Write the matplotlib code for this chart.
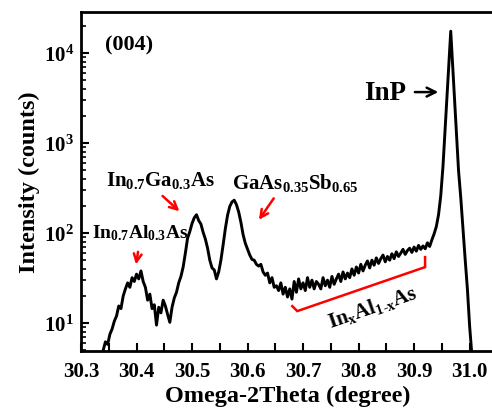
import numpy as np
import matplotlib
matplotlib.use("Agg")
import matplotlib.pyplot as plt
from matplotlib.ticker import MultipleLocator, LogLocator, NullFormatter

plt.rcParams['font.family'] = ['Liberation Serif', 'DejaVu Serif']
plt.rcParams['font.weight'] = 'bold'
plt.rcParams['mathtext.fontset'] = 'custom'
plt.rcParams['mathtext.rm'] = 'Liberation Serif:bold'
plt.rcParams['mathtext.bf'] = 'Liberation Serif:bold'
plt.rcParams['mathtext.it'] = 'Liberation Serif:bold'
plt.rcParams['mathtext.default'] = 'bf'

# Data (Omega-2Theta scan, log intensity)
omega = [30.340, 30.344, 30.348, 30.352, 30.356, 30.360, 30.364, 30.368, 30.372, 30.376,
         30.380, 30.384, 30.388, 30.392, 30.396, 30.400, 30.404, 30.408, 30.412, 30.416,
         30.420, 30.424, 30.428, 30.432, 30.436, 30.440, 30.444, 30.448, 30.452, 30.456,
         30.460, 30.464, 30.468, 30.472, 30.476, 30.480, 30.484, 30.488, 30.492, 30.496,
         30.500, 30.504, 30.508, 30.512, 30.516, 30.520, 30.524, 30.528, 30.532, 30.536,
         30.540, 30.544, 30.548, 30.552, 30.556, 30.560, 30.564, 30.568, 30.572, 30.576,
         30.580, 30.584, 30.588, 30.592, 30.596, 30.600, 30.604, 30.608, 30.612, 30.616,
         30.620, 30.624, 30.628, 30.632, 30.636, 30.640, 30.644, 30.648, 30.652, 30.656,
         30.660, 30.664, 30.668, 30.672, 30.676, 30.680, 30.684, 30.688, 30.692, 30.696,
         30.700, 30.704, 30.708, 30.712, 30.716, 30.720, 30.724, 30.728, 30.732, 30.736,
         30.740, 30.744, 30.748, 30.752, 30.756, 30.760, 30.764, 30.768, 30.772, 30.776,
         30.780, 30.784, 30.788, 30.792, 30.796, 30.800, 30.804, 30.808, 30.812, 30.816,
         30.820, 30.824, 30.828, 30.832, 30.836, 30.840, 30.844, 30.848, 30.852, 30.856,
         30.860, 30.864, 30.868, 30.872, 30.876, 30.880, 30.884, 30.888, 30.892, 30.896,
         30.900, 30.904, 30.908, 30.912, 30.916, 30.920, 30.924, 30.928, 30.932, 30.936,
         30.940, 30.944, 30.948, 30.952, 30.956, 30.960, 30.964, 30.966, 30.968, 30.972,
         30.976, 30.980, 30.984, 30.988, 30.992, 30.996, 31.000, 31.004]
counts = [5.0, 6.2, 5.8, 7.5, 8.6, 10.5, 12.0, 15.5, 14.5, 20,
          24, 28, 25, 32, 29, 35, 31, 38, 29, 25,
          18, 21, 14.5, 16, 9.5, 15, 13, 18, 15.5, 12.5,
          10.2, 15, 19, 22, 28, 33, 42, 60, 88, 104,
          128, 148, 160, 138, 126, 102, 86, 68, 50, 41,
          39, 31, 37, 50, 74, 112, 158, 198, 222, 232,
          207, 172, 132, 96, 77, 66, 57, 51, 50, 45,
          43, 45, 37, 34, 36, 28, 32, 25, 26, 23,
          28, 21, 25, 19.5, 24, 18.5, 29, 22, 31, 24,
          28, 23, 32, 25, 30, 24, 29, 27, 24, 32,
          26, 30, 25, 33, 27, 31, 35, 29, 37, 31,
          36, 32, 40, 34, 42, 36, 45, 38, 44, 49,
          41, 50, 44, 53, 46, 52, 57, 48, 55, 50,
          59, 52, 62, 55, 60, 66, 58, 64, 68, 61,
          70, 63, 73, 66, 72, 67, 78, 71, 84, 98,
          118, 160, 260, 550, 1480, 4000, 10700, 17500, 10500, 3800,
          1380, 500, 250, 112, 51, 24, 9.3, 4.5]

xticks = [30.3, 30.4, 30.5, 30.6, 30.7, 30.8, 30.9, 31.0]
xticklabels = ['30.3', '30.4', '30.5', '30.6', '30.7', '30.8', '30.9', '31.0']
yticks = [10, 100, 1000, 10000]
yticklabels = [r'$10^{1}$', r'$10^{2}$', r'$10^{3}$', r'$10^{4}$']

fig = plt.figure(figsize=(4.92, 4.14), dpi=100)
ax = fig.add_axes([81/492, 62/414, (494.6-81)/492, (352-13)/414])

ax.plot(omega, counts, color='black', lw=2.1)
ax.set_yscale('log')
ax.set_xlim(30.3, 31.045)
ax.set_ylim(4.9, 28600)

ax.set_xticks(xticks)
ax.set_xticklabels(xticklabels)
ax.xaxis.set_minor_locator(MultipleLocator(0.05))
ax.set_yticks(yticks)
ax.set_yticklabels(yticklabels)
ax.yaxis.set_minor_locator(LogLocator(base=10, subs=np.arange(2, 10)))
ax.yaxis.set_minor_formatter(NullFormatter())

ax.tick_params(axis='x', which='major', direction='in', length=6, width=1.5,
               labelsize=15, pad=7)
ax.tick_params(axis='y', which='major', direction='in', length=6, width=1.5,
               labelsize=15, pad=5)
ax.tick_params(axis='x', which='minor', direction='in', length=6, width=1.5)
ax.tick_params(axis='y', which='minor', direction='in', length=3.5, width=1.2)
ax.tick_params(top=False, right=False, which='both')
for lab in ax.get_xticklabels() + ax.get_yticklabels():
    lab.set_fontweight('bold')

for s in ['left', 'bottom', 'top']:
    ax.spines[s].set_linewidth(2.0)
ax.spines['right'].set_visible(False)

ax.set_xlabel('Omega-2Theta (degree)', fontsize=17.5, fontweight='bold', labelpad=3)
ax.set_ylabel('Intensity (counts)', fontsize=17.5, fontweight='bold', labelpad=3)

def px(x, y):
    # figure-pixel to data helper (annotation placement)
    xd = 30.3 + (x - 80.4) / 556.0
    yd = 10 ** (1 + (324 - y) / 90.0)
    return xd, yd

ax.text(*px(104, 45), '(004)', fontsize=16, fontweight='bold', va='center', ha='left')
ax.text(*px(105, 180), r'In$_{0.7}$Ga$_{0.3}$As', fontsize=15, fontweight='bold', va='center', ha='left')
ax.text(*px(232, 183), r'GaAs$_{0.35}$Sb$_{0.65}$', fontsize=15, fontweight='bold', va='center', ha='left')
ax.text(*px(91, 233), r'In$_{0.7}$Al$_{0.3}$As', fontsize=14, fontweight='bold', va='center', ha='left')
ax.text(*px(364, 93), 'InP', fontsize=19.5, fontweight='bold', va='center', ha='left')
ax.text(*px(372, 307), r'In$_x$Al$_{1\text{-}x}$As', fontsize=15, fontweight='bold',
        va='center', ha='center', rotation=19, rotation_mode='anchor')

red_kw = dict(arrowstyle='->', color='red', lw=1.8, mutation_scale=14)
ax.annotate('', xy=px(135, 268), xytext=px(138, 250), arrowprops=red_kw)
ax.annotate('', xy=px(181, 214), xytext=px(160, 195), arrowprops=red_kw)
ax.annotate('', xy=px(257, 223), xytext=px(275, 197), arrowprops=red_kw)
ax.annotate('', xy=px(441, 93), xytext=px(412, 93),
            arrowprops=dict(arrowstyle='->', color='black', lw=1.8, mutation_scale=16))

bx = [px(292, 307)[0], px(297, 312)[0], px(425, 268)[0], px(425, 258)[0]]
by = [px(292, 307)[1], px(297, 312)[1], px(425, 268)[1], px(425, 258)[1]]
ax.plot(bx, by, color='red', lw=1.8, solid_joinstyle='miter')

fig.savefig('out.png', dpi=100)
